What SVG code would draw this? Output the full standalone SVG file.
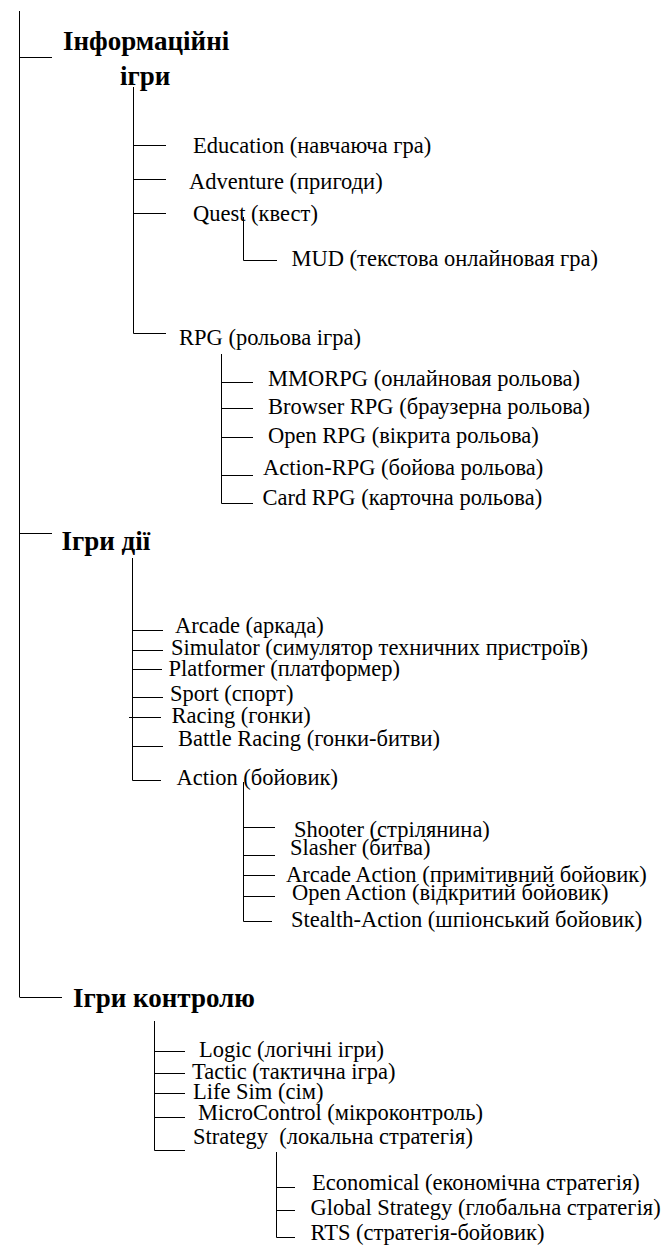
<svg xmlns="http://www.w3.org/2000/svg" width="669" height="1247" viewBox="0 0 669 1247">
<style>
.t{font-family:"Liberation Serif","Times New Roman",serif;font-size:22.5px;fill:#000}
.h{font-family:"Liberation Serif","Times New Roman",serif;font-size:27px;font-weight:bold;fill:#000}
.c line{stroke:#000;stroke-width:1;fill:none}
</style>
<rect width="669" height="1247" fill="#fff"/>
<g class="c" id="connectors">
<line x1="19.5" y1="11" x2="19.5" y2="997"/>
<line x1="19.5" y1="57.5" x2="52" y2="57.5"/>
<line x1="133.5" y1="87" x2="133.5" y2="333.5"/>
<line x1="133.5" y1="145.5" x2="166" y2="145.5"/>
<line x1="133.5" y1="179.5" x2="166" y2="179.5"/>
<line x1="133.5" y1="213.5" x2="166" y2="213.5"/>
<line x1="133.5" y1="333.5" x2="166" y2="333.5"/>
<line x1="243.5" y1="217" x2="243.5" y2="260.5"/>
<line x1="243.5" y1="260.5" x2="277" y2="260.5"/>
<line x1="221.5" y1="354" x2="221.5" y2="503.5"/>
<line x1="221.5" y1="382.5" x2="253" y2="382.5"/>
<line x1="221.5" y1="408.5" x2="253" y2="408.5"/>
<line x1="221.5" y1="437.5" x2="253" y2="437.5"/>
<line x1="221.5" y1="475.5" x2="253" y2="475.5"/>
<line x1="221.5" y1="503.5" x2="253" y2="503.5"/>
<line x1="19.5" y1="533.5" x2="52" y2="533.5"/>
<line x1="132.5" y1="558" x2="132.5" y2="780.5"/>
<line x1="132.5" y1="630.5" x2="163" y2="630.5"/>
<line x1="132.5" y1="650.5" x2="163" y2="650.5"/>
<line x1="132.5" y1="669.5" x2="162" y2="669.5"/>
<line x1="132.5" y1="697.5" x2="163" y2="697.5"/>
<line x1="129" y1="717.5" x2="161" y2="717.5"/>
<line x1="132.5" y1="746.5" x2="163" y2="746.5"/>
<line x1="132.5" y1="780.5" x2="161" y2="780.5"/>
<line x1="243.5" y1="782" x2="243.5" y2="921.5"/>
<line x1="243.5" y1="827.5" x2="275" y2="827.5"/>
<line x1="243.5" y1="855.5" x2="275" y2="855.5"/>
<line x1="243.5" y1="875.5" x2="275" y2="875.5"/>
<line x1="243.5" y1="896.5" x2="275" y2="896.5"/>
<line x1="243.5" y1="921.5" x2="272" y2="921.5"/>
<line x1="19.5" y1="997.5" x2="62" y2="997.5"/>
<line x1="154.5" y1="1021" x2="154.5" y2="1150.5"/>
<line x1="154.5" y1="1051.5" x2="185" y2="1051.5"/>
<line x1="154.5" y1="1073.5" x2="185" y2="1073.5"/>
<line x1="154.5" y1="1093.5" x2="185" y2="1093.5"/>
<line x1="154.5" y1="1117.5" x2="185" y2="1117.5"/>
<line x1="154.5" y1="1150.5" x2="185" y2="1150.5"/>
<line x1="276.5" y1="1152" x2="276.5" y2="1237.5"/>
<line x1="276.5" y1="1187.5" x2="295" y2="1187.5"/>
<line x1="276.5" y1="1210.5" x2="295" y2="1210.5"/>
<line x1="276.5" y1="1237.5" x2="295" y2="1237.5"/>
</g>
<g id="info"><text class="h" x="63" y="50">Інформаційні</text><text class="h" x="120" y="85">ігри</text></g>
<g id="education"><text class="t" transform="translate(193,152.5) scale(1,1.07)">Education (навчаюча гра)</text></g>
<g id="adventure"><text class="t" transform="translate(189,189) scale(1,1.07)">Adventure (пригоди)</text></g>
<g id="quest"><text class="t" transform="translate(193,220.5) scale(1,1.07)">Quest (квест)</text></g>
<g id="mud"><text class="t" transform="translate(291.5,265.5) scale(1,1.07)">MUD (текстова онлайновая гра)</text></g>
<g id="rpg"><text class="t" transform="translate(179,345) scale(1,1.07)">RPG (рольова ігра)</text></g>
<g id="mmorpg"><text class="t" transform="translate(268,385.5) scale(1,1.07)">MMORPG (онлайновая рольова)</text></g>
<g id="browserrpg"><text class="t" transform="translate(268,414) scale(1,1.07)">Browser RPG (браузерна рольова)</text></g>
<g id="openrpg"><text class="t" transform="translate(268,442.5) scale(1,1.07)">Open RPG (вікрита рольова)</text></g>
<g id="actionrpg"><text class="t" transform="translate(263,475) scale(1,1.07)">Action-RPG (бойова рольова)</text></g>
<g id="cardrpg"><text class="t" transform="translate(262.5,505) scale(1,1.07)">Card RPG (карточна рольова)</text></g>
<g id="action-games"><text class="h" x="61.5" y="550">Ігри дії</text></g>
<g id="arcade"><text class="t" transform="translate(175,632.5) scale(1,1.07)">Arcade (аркада)</text></g>
<g id="simulator"><text class="t" transform="translate(171,655) scale(1,1.07)">Simulator (симулятор техничних пристроїв)</text></g>
<g id="platformer"><text class="t" transform="translate(168.5,675.5) scale(1,1.07)">Platformer (платформер)</text></g>
<g id="sport"><text class="t" transform="translate(170,701) scale(1,1.07)">Sport (спорт)</text></g>
<g id="racing"><text class="t" transform="translate(171.5,723) scale(1,1.07)">Racing (гонки)</text></g>
<g id="battleracing"><text class="t" transform="translate(178,745.5) scale(1,1.07)">Battle Racing (гонки-битви)</text></g>
<g id="action"><text class="t" transform="translate(176.5,785) scale(1,1.07)">Action (бойовик)</text></g>
<g id="shooter"><text class="t" transform="translate(294,836.5) scale(1,1.07)">Shooter (стрілянина)</text></g>
<g id="slasher"><text class="t" transform="translate(290,855) scale(1,1.07)">Slasher (битва)</text></g>
<g id="arcadeaction"><text class="t" transform="translate(286,881.5) scale(1,1.07)">Arcade Action (примітивний бойовик)</text></g>
<g id="openaction"><text class="t" transform="translate(292,900) scale(1,1.07)">Open Action (відкритий бойовик)</text></g>
<g id="stealth"><text class="t" transform="translate(291,926.5) scale(1,1.07)">Stealth-Action (шпіонський бойовик)</text></g>
<g id="control-games"><text class="h" x="73" y="1006.5">Ігри контролю</text></g>
<g id="logic"><text class="t" transform="translate(199,1056.5) scale(1,1.07)">Logic (логічні ігри)</text></g>
<g id="tactic"><text class="t" transform="translate(192,1078.5) scale(1,1.07)">Tactic (тактична ігра)</text></g>
<g id="lifesim"><text class="t" transform="translate(193,1098.5) scale(1,1.07)">Life Sim (сім)</text></g>
<g id="microcontrol"><text class="t" transform="translate(198,1120) scale(1,1.07)">MicroControl (мікроконтроль)</text></g>
<g id="strategy"><text class="t" transform="translate(193,1143.5) scale(1,1.07)" style="white-space:pre">Strategy  (локальна стратегія)</text></g>
<g id="economical"><text class="t" transform="translate(312,1190) scale(1,1.07)">Economical (економічна стратегія)</text></g>
<g id="global"><text class="t" transform="translate(310.5,1215) scale(1,1.07)">Global Strategy (глобальна стратегія)</text></g>
<g id="rts"><text class="t" transform="translate(310.5,1240) scale(1,1.07)">RTS (стратегія-бойовик)</text></g>
</svg>
